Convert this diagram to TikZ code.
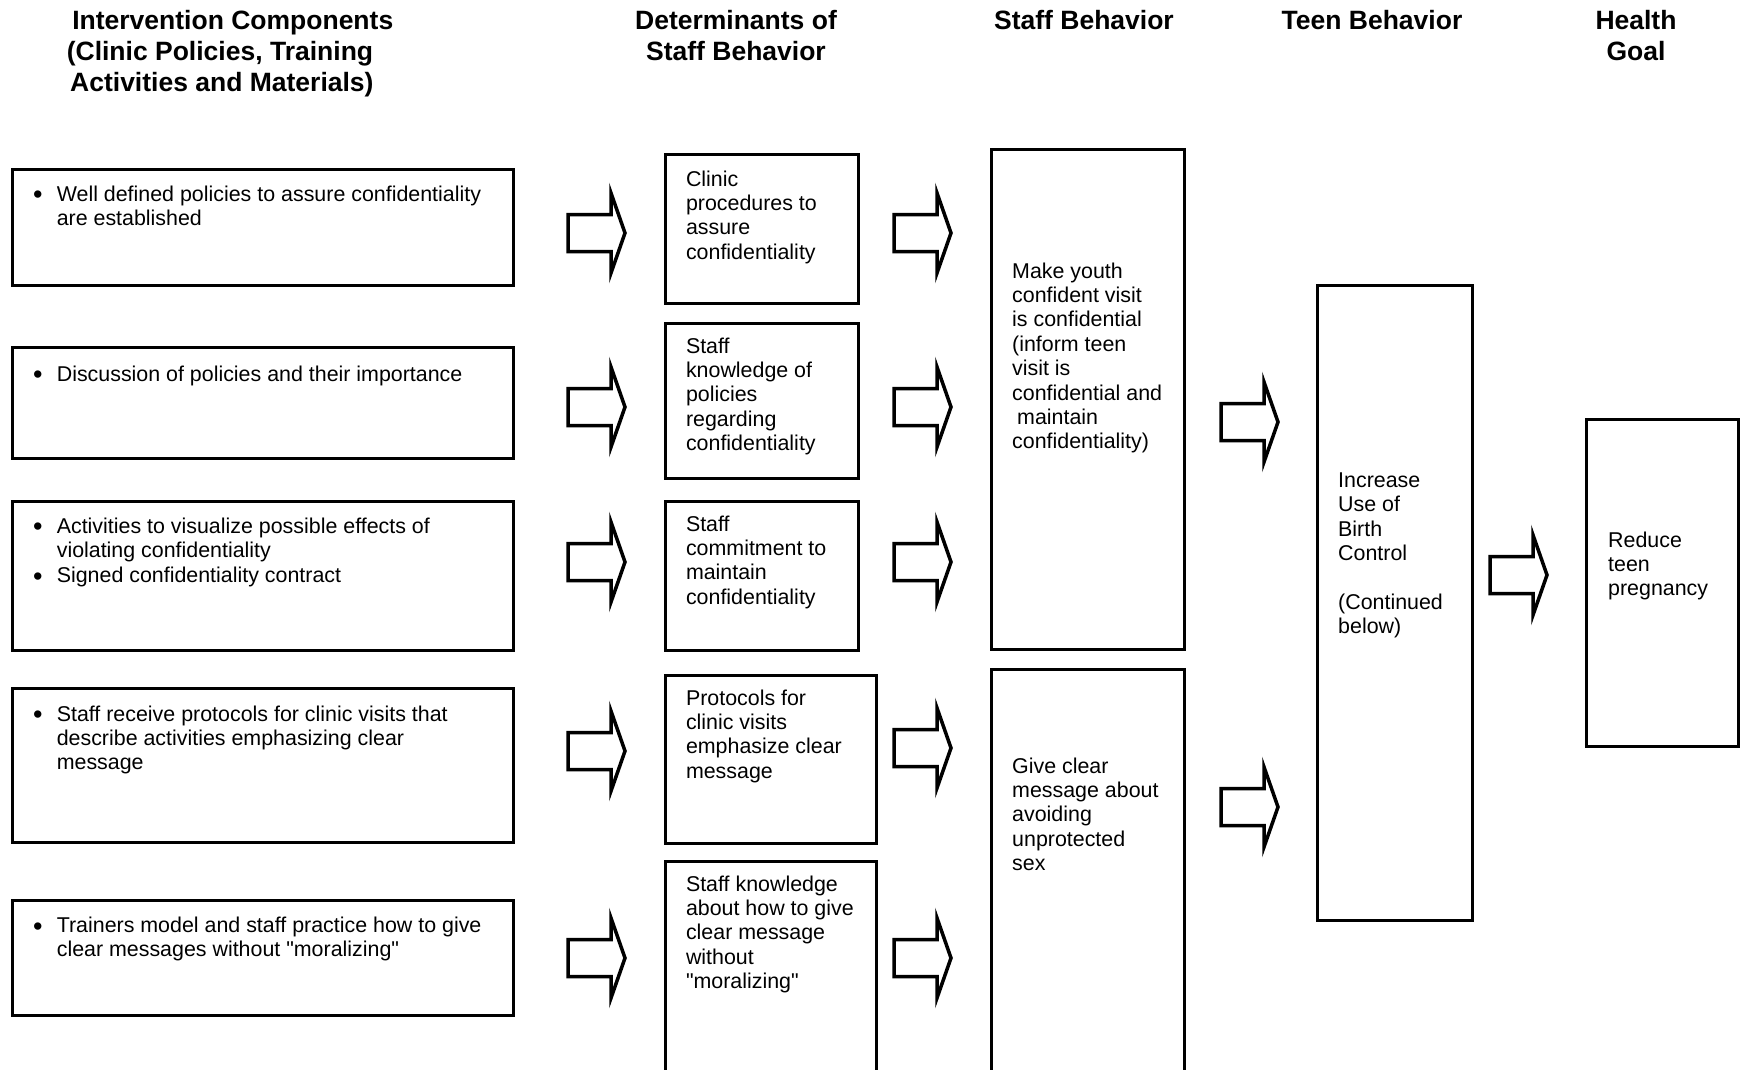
\documentclass[tikz,border=0pt]{standalone}
\usepackage{fontspec}
\setmainfont{Liberation Sans}[Ligatures=TeXOff]
\newcommand\txtlines[1]{\begin{tabular}[t]{@{}l@{}}#1\end{tabular}}
\newcommand\hdlines[1]{\begin{tabular}[t]{@{}c@{}}#1\end{tabular}}
\newcommand\hdleft[1]{\begin{tabular}[t]{@{}l@{}}#1\end{tabular}}
\newcommand\bul{\makebox[23.6pt][l]{{\fontsize{27}{27}\selectfont\raisebox{-2.5pt}{\textbullet}}}}
\newcommand\ind{\hspace*{23.6pt}}
\tikzset{
  box/.style={draw, line width=3.3pt, inner sep=0pt, anchor=north west},
  txt/.style={anchor=base west, inner sep=0pt, font=\fontsize{21.4}{24.4}\selectfont},
  hdr/.style={anchor=base, inner sep=0pt, font=\bfseries\fontsize{26.5}{31}\selectfont},
  blockarrow/.pic={\draw[line width=3.5pt, line join=miter]
    (-29,-18.5) -- (14,-18.5) -- (14,-40) -- (28,0) -- (14,40) -- (14,18.5) -- (-29,18.5) -- cycle;}
}
\begin{document}
\begin{tikzpicture}[x=1pt,y=-1pt]
\useasboundingbox (0,0) rectangle (1740,1070);
\clip (0,0) rectangle (1740,1070);
% headers
\node[hdr, anchor=base west] (h1) at (66.6,30) {\hdleft{\hspace*{5.5pt}Intervention Components\\(Clinic Policies, Training\\\hspace*{3.4pt}Activities and Materials)}};
\node[hdr] (h2) at (736,30) {\hdlines{Determinants of\\Staff Behavior}};
\node[hdr] (h3) at (1084,30) {Staff Behavior};
\node[hdr] (h4) at (1372,30) {Teen Behavior};
\node[hdr] (h5) at (1636,30) {\hdlines{Health\\Goal}};
% left column boxes
\node[box, minimum width=501pt, minimum height=116pt] (L1) at (11,168) {};
\node[box, minimum width=501pt, minimum height=111pt] (L2) at (11,346) {};
\node[box, minimum width=501pt, minimum height=149pt] (L3) at (11,500) {};
\node[box, minimum width=501pt, minimum height=154pt] (L4) at (11,687) {};
\node[box, minimum width=501pt, minimum height=115pt] (L5) at (11,899) {};
\node[txt] (tL1) at (33,201) {\txtlines{\bul Well defined policies to assure confidentiality\\\ind are established}};
\node[txt] (tL2) at (33,381) {\txtlines{\bul Discussion of policies and their importance}};
\node[txt] (tL3) at (33,533) {\txtlines{\bul Activities to visualize possible effects of\\\ind violating confidentiality\\[1pt]\bul Signed confidentiality contract}};
\node[txt] (tL4) at (33,721) {\txtlines{\bul Staff receive protocols for clinic visits that\\\ind describe activities emphasizing clear\\\ind message}};
\node[txt] (tL5) at (33,932.5) {\txtlines{\bul Trainers model and staff practice how to give\\\ind clear messages without "moralizing"}};
% determinants
\node[box, minimum width=193pt, minimum height=149pt] (D1) at (664,153) {};
\node[box, minimum width=193pt, minimum height=155pt] (D2) at (664,322) {};
\node[box, minimum width=193pt, minimum height=149pt] (D3) at (664,500) {};
\node[box, minimum width=211pt, minimum height=168pt] (D4) at (664,674) {};
\node[box, minimum width=211pt, minimum height=230pt] (D5) at (664,860) {};
\node[txt] (tD1) at (685.8,186) {\txtlines{Clinic\\procedures to\\assure\\confidentiality}};
\node[txt] (tD2) at (685.8,353) {\txtlines{Staff\\knowledge of\\policies\\regarding\\confidentiality}};
\node[txt] (tD3) at (685.8,531) {\txtlines{Staff\\commitment to\\maintain\\confidentiality}};
\node[txt] (tD4) at (685.8,705) {\txtlines{Protocols for\\clinic visits\\emphasize clear\\message}};
\node[txt] (tD5) at (685.8,891) {\txtlines{Staff knowledge\\about how to give\\clear message\\without\\"moralizing"}};
% staff behavior
\node[box, minimum width=193pt, minimum height=500pt] (S1) at (990,148) {};
\node[box, minimum width=193pt, minimum height=420pt] (S2) at (990,668) {};
\node[txt] (tS1) at (1012,278) {\txtlines{Make youth\\confident visit\\is confidential\\(inform teen\\visit is\\confidential and\\\hspace*{5pt}maintain\\confidentiality)}};
\node[txt] (tS2) at (1012,773) {\txtlines{Give clear\\message about\\avoiding\\unprotected\\sex}};
% teen behavior
\node[box, minimum width=155pt, minimum height=635pt] (T) at (1316,284) {};
\node[txt] (tT) at (1338,487.5) {\txtlines{Increase\\Use of\\Birth\\Control\\ \\(Continued\\below)}};
% health goal
\node[box, minimum width=152pt, minimum height=327pt] (H) at (1585,418) {};
\node[txt] (tH) at (1608,547) {\txtlines{Reduce\\teen\\pregnancy}};
% block arrows
\pic (a11) at (597,233) {blockarrow};
\pic (a12) at (597,407) {blockarrow};
\pic (a13) at (597,562) {blockarrow};
\pic (a14) at (597,751) {blockarrow};
\pic (a15) at (597,958) {blockarrow};
\pic (a21) at (923,233) {blockarrow};
\pic (a22) at (923,407) {blockarrow};
\pic (a23) at (923,562) {blockarrow};
\pic (a24) at (923,748) {blockarrow};
\pic (a25) at (923,958) {blockarrow};
\pic (a31) at (1250,422) {blockarrow};
\pic (a32) at (1250,807) {blockarrow};
\pic (a41) at (1519,575) {blockarrow};
\end{tikzpicture}
\end{document}
